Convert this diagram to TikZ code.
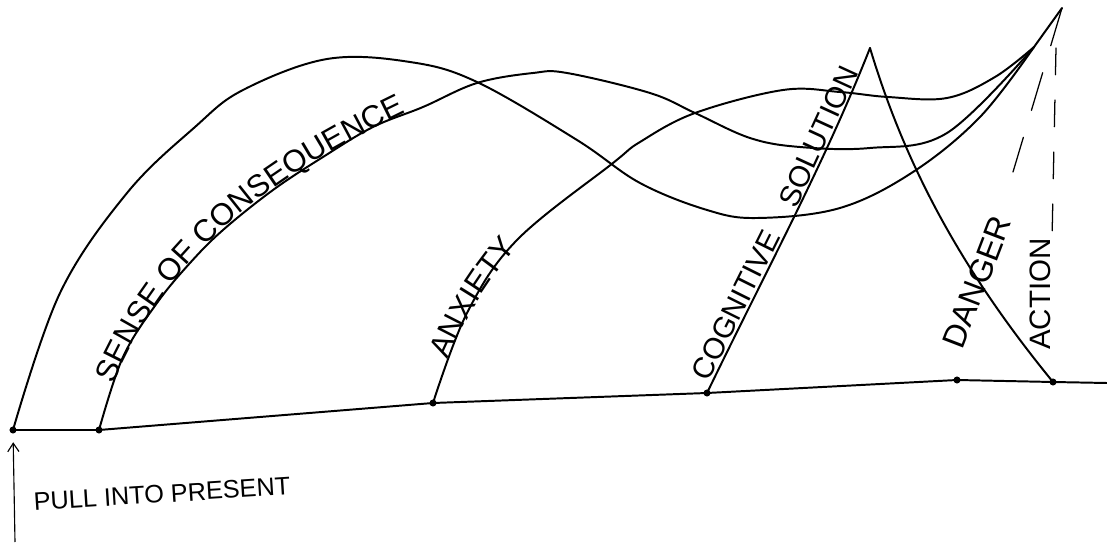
\documentclass[tikz,border=0pt]{standalone}
\usepackage{fontspec}
\setmainfont{Liberation Sans}
\usetikzlibrary{decorations.text,arrows.meta}

\begin{document}
\begin{tikzpicture}[
        x=0.025cm, y=0.025cm,
        curve/.style={black, line width=1.4pt, line cap=round, line join=round},
        dotpt/.style={circle, fill=black, inner sep=0pt, minimum size=5pt},
        dashline/.style={black, line width=0.9pt, line cap=round},
        pullarrow/.style={black, line width=0.8pt, -{Straight Barb[length=6pt, width=8pt]}},
        lbl/.style={font=\fontsize{21}{25}\selectfont, inner sep=1pt}
    ]
    \useasboundingbox (0,0) rectangle (1107,542);

    % ==========================================
    % TIME LINE with its points
    % ==========================================
    \node[dotpt] (pull)  at (13,112)  {};
    \node[dotpt] (sense) at (99,112)  {};
    \node[dotpt] (anx)   at (433,139) {};
    \node[dotpt] (cog)   at (707,149) {};
    \node[dotpt] (dng)   at (957,162) {};
    \node[dotpt] (act)   at (1053,160) {};
    \coordinate (lineend) at (1107,159);

    \draw[curve] (pull.center) -- (sense.center) -- (anx.center) -- (cog.center) -- (dng.center) -- (act.center) -- (lineend);

    % top points
    \coordinate (conv) at (1034,495);  % where the curves meet
    \coordinate (top)  at (1062,534);
    \coordinate (apex) at (870,494);
    \coordinate (sensecross) at (477,459);
    \coordinate (anxcross) at (613,379);

    % ==========================================
    % CURVES
    % ==========================================
    % outer arc
    \draw[curve] plot[smooth, tension=0.6] coordinates {(pull.center) (60,249) (127,349) (195,415) (243,452) (327,483) (410,480) (477,460) (577,402) (640,359) (707,332) (757,324) (840,334) (913,370) (980,425) (conv)};

    % sense of consequence
    \draw[curve] plot[smooth, tension=0.6] coordinates {(sense.center) (123,185) (157,239) (190,279) (223,312) (273,352) (323,385) (373,415) (423,435) (sensecross) (533,469) (567,469) (650,449) (695,429) (750,404) (800,395) (870,394) (947,409) (conv)};
    \path[postaction={decorate}, decoration={text along path, raise=2pt, text align={left indent=34pt},
        text={|\fontsize{22}{26}\selectfont|SENSE OF CONSEQUENCE}}]
        (sense.center) to[out=72, in=204] (sensecross);

    % anxiety
    \draw[curve] plot[smooth, tension=0.6] coordinates {(anx.center) (467,229) (517,302) (anxcross) (640,400) (695,429) (783,452) (840,450) (888,445) (947,444) (995,465) (conv)};
    \path[postaction={decorate}, decoration={text along path, raise=2pt, text align={left indent=32pt},
        text={|\fontsize{22}{26}\selectfont|ANXIETY}}]
        (anx.center) to[out=70, in=218] (anxcross);

    % cognitive solution and danger
    \draw[curve] (cog.center) .. controls (770,279) and (825,380) .. (apex)
        node[lbl, sloped, above, pos=0.22] (cogtxt) {COGNITIVE}
        node[lbl, sloped, above, pos=0.72] (soltxt) {SOLUTION};
    \draw[curve] (apex) .. controls (906,374) and (963,270) .. (act.center);
    \node[lbl, font=\fontsize{23}{27}\selectfont, rotate=69] (dngtxt) at (977,260) {DANGER};

    % action
    \draw[curve] (conv) -- (top);
    \draw[dashline, dash pattern=on 28pt off 20pt] (top) -- (1013,370);
    \draw[dashline, dash pattern=on 19pt off 18pt] (1056,494) -- (1052,302);
    \node[lbl, rotate=90] (acttxt) at (1040,248) {ACTION};

    % ==========================================
    % PULL INTO PRESENT
    % ==========================================
    \coordinate (pullfoot) at (15,0);
    \draw[pullarrow, shorten >=6pt] (pullfoot) -- (pull);
    \node[lbl, font=\fontsize{18}{21}\selectfont, rotate=3.7] (pulltxt) at (162,48) {PULL INTO PRESENT};

\end{tikzpicture}
\end{document}
